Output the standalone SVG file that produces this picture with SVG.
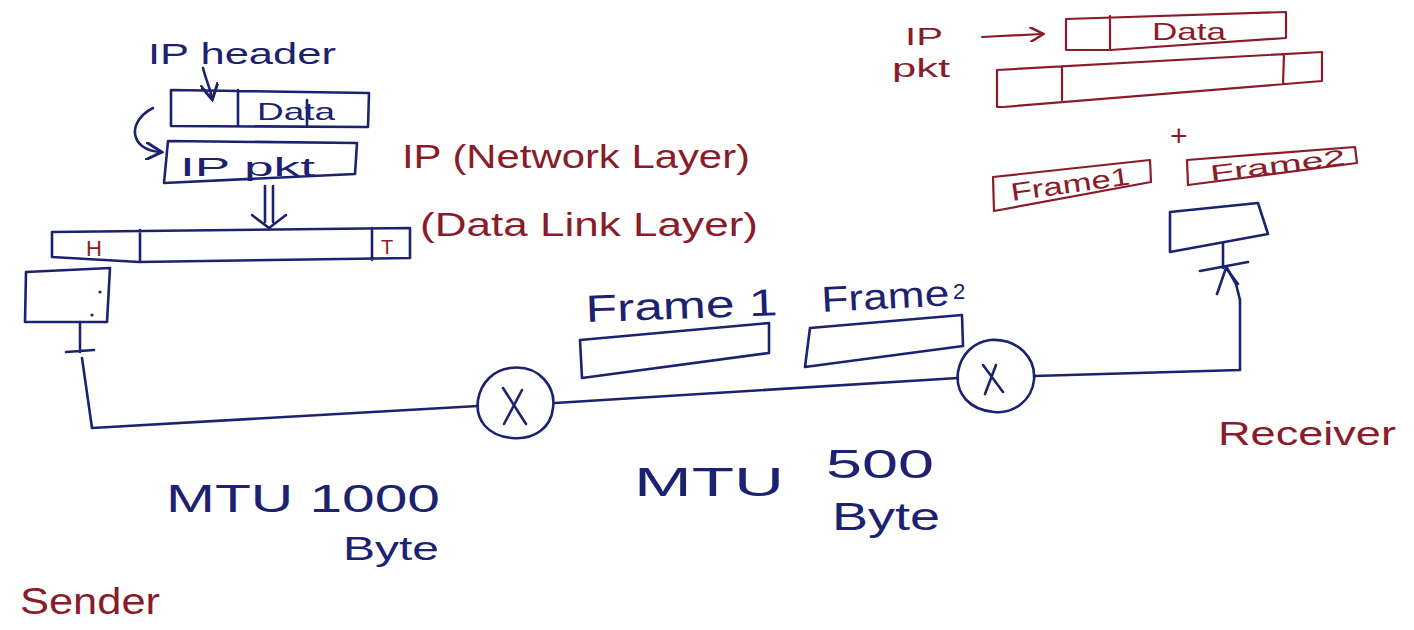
<svg xmlns="http://www.w3.org/2000/svg" width="1414" height="630" viewBox="0 0 1414 630">
  <style>
    .b { fill: none; stroke: #1c2270; stroke-width: 2.6; stroke-linecap: round; stroke-linejoin: round; }
    .r { fill: none; stroke: #8a1c2a; stroke-width: 2.2; stroke-linecap: round; stroke-linejoin: round; }
    .tb { fill: #1c2270; font-family: "Liberation Sans", "DejaVu Sans", sans-serif; }
    .tr { fill: #8a1c2a; font-family: "Liberation Sans", "DejaVu Sans", sans-serif; }
  </style>
  <defs>
    <marker id="ahb" viewBox="0 0 10 10" refX="8" refY="5" markerWidth="7" markerHeight="7" orient="auto-start-reverse">
      <path d="M0,0 L9,5 L0,10" fill="none" stroke="#1c2270" stroke-width="1.6"/>
    </marker>
    <marker id="ahr" viewBox="0 0 10 10" refX="8" refY="5" markerWidth="7" markerHeight="7" orient="auto-start-reverse">
      <path d="M0,0 L9,5 L0,10" fill="none" stroke="#8a1c2a" stroke-width="1.6"/>
    </marker>
  </defs>
  <rect width="1414" height="630" fill="#ffffff"/>

  <!-- Sender side: IP packet assembly -->
  <g id="ip-header-label">
    <text class="tb" x="148" y="64" font-size="30" textLength="188" lengthAdjust="spacingAndGlyphs">IP header</text>
    <path class="b" d="M203,68 C206,80 210,88 212,98" marker-end="url(#ahb)" stroke-width="1.8"/>
  </g>
  <g id="ip-header-data">
    <path class="b" d="M171,90 L369,93 L368,127 L171,126 Z M238,90 L238,126"/>
    <path class="b" d="M307,100 L307,125" stroke-width="1.6"/>
    <text class="tb" x="257" y="120" font-size="24" textLength="78" lengthAdjust="spacingAndGlyphs">Data</text>
  </g>
  <path id="wrap-arrow" class="b" d="M153,108 C126,122 130,150 160,152" marker-end="url(#ahb)" stroke-width="2"/>
  <g id="ip-pkt">
    <path class="b" d="M168,141 L357,143 L355,174 L164,183 Z"/>
    <text class="tb" x="180" y="176" font-size="26" textLength="135" lengthAdjust="spacingAndGlyphs">IP  pkt</text>
  </g>
  <g id="encap-arrow">
    <path class="b" d="M265,186 L265,222 M273,186 L273,222 M252,215 L269,228 L286,215" stroke-width="2.2"/>
  </g>
  <g id="dl-frame">
    <path class="b" d="M52,232 L410,228 L410,258 L139,262 L52,257 Z M140,230 L140,262 M372,228 L372,260"/>
    <text class="tr" x="86" y="256" font-size="22">H</text>
    <text class="tr" x="381" y="254" font-size="20">T</text>
  </g>
  <g id="layer-labels">
    <text class="tr" x="402" y="168" font-size="34" textLength="348" lengthAdjust="spacingAndGlyphs">IP (Network Layer)</text>
    <text class="tr" x="420" y="236" font-size="34" textLength="338" lengthAdjust="spacingAndGlyphs">(Data Link Layer)</text>
  </g>
  <g id="sender">
    <path class="b" d="M26,272 L110,268 L107,322 L25,322 Z"/>
    <circle cx="100" cy="292" r="1.6" fill="#1c2270"/>
    <circle cx="92" cy="315" r="1.6" fill="#1c2270"/>
    <text class="tr" x="20" y="614" font-size="36" textLength="140" lengthAdjust="spacingAndGlyphs">Sender</text>
  </g>

  <!-- Routers -->
  <g id="router-1">
    <path class="b" d="M510,368 C540,364 556,388 553,408 C551,428 534,440 512,438 C488,436 475,420 478,400 C481,382 494,370 510,368 Z"/>
    <path class="b" d="M503,388 L526,424 M522,390 L504,424" stroke-width="2.2"/>
  </g>
  <g id="router-2">
    <path class="b" d="M990,340 C1018,338 1036,358 1034,380 C1032,400 1014,414 994,412 C970,410 955,394 958,372 C961,354 974,342 990,340 Z"/>
    <path class="b" d="M983,365 L1003,392 M996,365 L985,394" stroke-width="2.2"/>
  </g>

  <!-- Frames on the 500-byte link -->
  <g id="frame-1">
    <text class="tb" x="586" y="322" font-size="38" textLength="192" lengthAdjust="spacingAndGlyphs" transform="rotate(-2 586 322)">Frame 1</text>
    <path class="b" d="M580,340 L769,323 L769,353 L582,378 Z"/>
  </g>
  <g id="frame-2">
    <text class="tb" x="822" y="312" font-size="36" textLength="128" lengthAdjust="spacingAndGlyphs" transform="rotate(-3 822 312)">Frame</text>
    <text class="tb" x="953" y="299" font-size="22">2</text>
    <path class="b" d="M810,328 L962,315 L963,346 L805,367 Z"/>
  </g>

  <!-- Receiver side: reassembly -->
  <g id="rx-ip-pkt">
    <text class="tr" x="905" y="45" font-size="24" textLength="38" lengthAdjust="spacingAndGlyphs">IP</text>
    <text class="tr" x="892" y="77" font-size="26" textLength="58" lengthAdjust="spacingAndGlyphs">pkt</text>
    <path class="r" d="M982,37 L1042,34" marker-end="url(#ahr)"/>
  </g>
  <g id="rx-header-data">
    <path class="r" d="M1066,19 L1286,12 L1286,38 L1110,50 L1066,50 Z M1110,16 L1110,50"/>
    <text class="tr" x="1152" y="40" font-size="24" textLength="74" lengthAdjust="spacingAndGlyphs">Data</text>
  </g>
  <g id="rx-frame">
    <path class="r" d="M997,70 L1322,52 L1322,81 L1003,107 L997,107 Z M1062,66 L1062,100 M1284,54 L1283,84"/>
  </g>
  <text id="plus" class="tr" x="1170" y="146" font-size="30">+</text>
  <g id="rx-frame-1">
    <path class="r" d="M993,177 L1150,160 L1151,182 L994,211 Z"/>
    <text class="tr" x="1012" y="201" font-size="25" textLength="120" lengthAdjust="spacingAndGlyphs" transform="rotate(-8 1012 201)">Frame1</text>
  </g>
  <g id="rx-frame-2">
    <path class="r" d="M1187,160 L1355,147 L1357,163 L1188,185 Z"/>
    <text class="tr" x="1211" y="181" font-size="22" textLength="136" lengthAdjust="spacingAndGlyphs" transform="rotate(-7 1211 181)">Frame2</text>
  </g>
  <g id="receiver">
    <path class="b" d="M1170,212 L1258,203 L1268,234 L1170,252 Z"/>
    <text class="tr" x="1218" y="445" font-size="34" textLength="178" lengthAdjust="spacingAndGlyphs">Receiver</text>
  </g>

  <!-- Links -->
  <g id="connectors">
    <path class="b" d="M80,322 L80,352 M66,352 L94,350"/>
    <path class="b" d="M82,358 L92,428 L478,406"/>
    <path class="b" d="M555,403 L958,378"/>
    <path class="b" d="M1034,376 L1240,370 L1240,300 L1236,284 L1227,268"/>
    <path class="b" d="M1223,243 L1223,268 M1200,271 L1248,262 M1217,294 L1226,268 L1238,284" stroke-width="2.2"/>
  </g>

  <!-- Link labels -->
  <g id="mtu-1000">
    <text class="tb" x="166" y="512" font-size="38" textLength="274" lengthAdjust="spacingAndGlyphs">MTU  1000</text>
    <text class="tb" x="343" y="560" font-size="34" textLength="96" lengthAdjust="spacingAndGlyphs">Byte</text>
  </g>
  <g id="mtu-500">
    <text class="tb" x="634" y="496" font-size="40" textLength="150" lengthAdjust="spacingAndGlyphs">MTU</text>
    <text class="tb" x="826" y="478" font-size="40" textLength="108" lengthAdjust="spacingAndGlyphs">500</text>
    <text class="tb" x="832" y="530" font-size="38" textLength="108" lengthAdjust="spacingAndGlyphs">Byte</text>
  </g>
</svg>
